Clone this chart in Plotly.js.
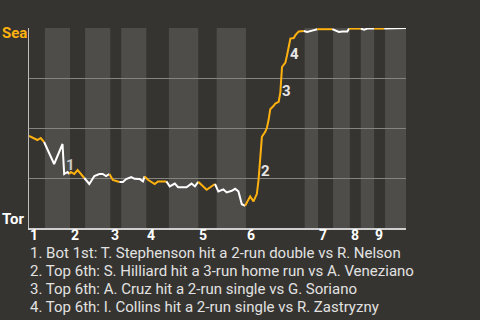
<!DOCTYPE html>
<html>
<head>
<meta charset="utf-8">
<script src="https://cdn.plot.ly/plotly-3.0.1.min.js"></script>
<style>
html,body{margin:0;padding:0;background:#363430;}
#chart{width:480px;height:320px;}
</style>
</head>
<body>
<div id="chart"></div>
<script>
// Game progress (event index) and Seattle win probability
const playX = [
  0,3,5,7,9,15,20,21,23,24,
  25,27,29,31,33,36,39,42,44,46,
  48,50,54,56,58,61,63,66,68,69,
  71,75,77,82,84,87,89,94,97,99,
  101,103,106,111,113,116,118,121,123,125,
  127,129,132,134,136,137,138,139,141,142,
  143,144,146,147,149,150,151,153,154,155,
  156,158,159,161,164,166,169,172,181,183,
  185,187,190,191,198,200,202,206,212,225
];
const winProb = [
  .46,.45,.44,.45,.43,.32,.42,.27,.28,.27,
  .28,.27,.29,.27,.25,.22,.26,.27,.27,.26,
  .27,.24,.23,.23,.245,.255,.246,.245,.233,.258,
  .241,.22,.233,.233,.208,.222,.204,.204,.222,.208,
  .231,.216,.191,.22,.183,.193,.178,.186,.196,.183,
  .119,.111,.158,.133,.171,.241,.376,.456,.481,.501,
  .541,.594,.611,.622,.631,.677,.805,.827,.864,.914,
  .947,.95,.964,.983,.985,.98,.987,.994,.994,.987,
  .98,.983,.983,.997,.997,.992,.997,.997,.997,1.0
];
// Half-inning start positions (top 1st, bot 1st, top 2nd, ...)
const halfStarts = [0,9.5,24.5,33.5,48.5,55,70,83.5,101,112,129.5,164.5,172.5,181.5,191.5,198,206,212.5];
const gameEnd = 225;
const inningLabels = ['1','2','3','4','5','6','7','8','9'];

// Key events
const eventNums = ['1','2','3','4'];
const eventX = [25,141.4,153.6,158.6];
const eventY = [0.315,0.283,0.687,0.87];
const eventText = [
  '1. Bot 1st: T. Stephenson hit a 2-run double vs R. Nelson',
  '2. Top 6th: S. Hilliard hit a 3-run home run vs A. Veneziano',
  '3. Top 6th: A. Cruz hit a 2-run single vs G. Soriano',
  '4. Top 6th: I. Collins hit a 2-run single vs R. Zastryzny'
];
const teamTop = 'Sea';
const teamBottom = 'Tor';

const ORANGE = '#ffb20f';
const WHITE = '#ffffff';
const FONT = 'Roboto, "Open Sans", sans-serif';

const traces = [];
const shapes = [];
for (let h = 0; h < halfStarts.length; h++) {
  const start = halfStarts[h];
  const end = h + 1 < halfStarts.length ? halfStarts[h + 1] : gameEnd;
  const xs = [], ys = [];
  let prev = -1;
  for (let i = 0; i < playX.length; i++) if (playX[i] <= start) prev = i;
  if (prev >= 0 && h > 0) { xs.push(playX[prev]); ys.push(winProb[prev]); }
  for (let i = 0; i < playX.length; i++) {
    if ((h === 0 ? playX[i] >= start : playX[i] > start) && playX[i] <= end) {
      xs.push(playX[i]); ys.push(winProb[i]);
    }
  }
  traces.push({
    x: xs, y: ys, type: 'scatter', mode: 'lines', cliponaxis: false,
    line: {color: h % 2 === 0 ? ORANGE : WHITE, width: 2},
    hoverinfo: 'none', showlegend: false
  });
  if (h % 2 === 1) {
    shapes.push({type: 'rect', xref: 'x', yref: 'paper', x0: start, x1: end, y0: 0, y1: 1,
      fillcolor: '#4f4d4a', line: {width: 0}, layer: 'below'});
  }
}

const annotations = [];
for (let k = 0; k < inningLabels.length; k++) {
  annotations.push({x: halfStarts[2 * k], y: 0, xref: 'x', yref: 'paper', xanchor: 'left', yanchor: 'top',
    text: inningLabels[k], showarrow: false, xshift: -1, yshift: 3,
    font: {family: FONT, size: 14, color: '#ffffff', weight: 'bold'}});
}
for (let k = 0; k < eventNums.length; k++) {
  annotations.push({x: eventX[k], y: eventY[k], xref: 'x', yref: 'y', text: '<b>' + eventNums[k] + '</b>',
    showarrow: false, font: {family: FONT, size: 15, color: k === 0 ? '#c8c8c8' : '#e6e6e6'}});
}
for (let k = 0; k < eventText.length; k++) {
  annotations.push({x: 0, y: -0.125 - k * 0.09, xref: 'paper', yref: 'paper', xanchor: 'left', yanchor: 'middle',
    text: eventText[k], showarrow: false, xshift: -1,
    font: {family: FONT, size: 15, color: '#e2e2e2'}});
}
annotations.push({x: -0.071, y: 0.973, xref: 'paper', yref: 'paper', xanchor: 'left', yanchor: 'middle',
  text: '<b>' + teamTop + '</b>', showarrow: false, xshift: -2, font: {family: FONT, size: 15, color: ORANGE}});
annotations.push({x: -0.071, y: 0.046, xref: 'paper', yref: 'paper', xanchor: 'left', yanchor: 'middle',
  text: '<b>' + teamBottom + '</b>', showarrow: false, xshift: -2, font: {family: FONT, size: 15, color: '#ffffff'}});

const layout = {
  width: 480, height: 320,
  margin: {l: 29, r: 74, t: 28, b: 92, pad: 0},
  paper_bgcolor: '#363430', plot_bgcolor: '#363430',
  showlegend: false,
  xaxis: {range: [0, gameEnd], showgrid: false, zeroline: false, showticklabels: false, ticks: '',
    showline: true, linecolor: '#cfcfcf', linewidth: 2, fixedrange: true},
  yaxis: {range: [0, 1], tickvals: [0.25, 0.5, 0.75, 1], showgrid: true, gridcolor: '#86847f', gridwidth: 1,
    zeroline: false, showticklabels: false, ticks: '', showline: true, linecolor: '#bdbdbd', linewidth: 1, fixedrange: true},
  shapes: shapes,
  annotations: annotations
};

Plotly.newPlot('chart', traces, layout, {displayModeBar: false, staticPlot: true});
</script>
</body>
</html>
